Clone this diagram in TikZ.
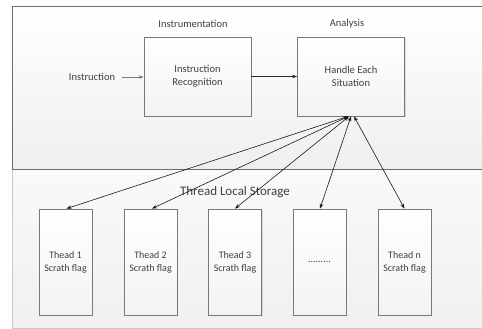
\documentclass[tikz,border=0pt]{standalone}
\usepackage{fontspec}
\setmainfont{Carlito}
\usetikzlibrary{arrows.meta,shadows}
\definecolor{edge}{RGB}{120,120,120}
\definecolor{paneledge}{RGB}{110,110,110}
\definecolor{txt}{RGB}{64,64,64}
\tikzset{
  panel/.style={top color=white, bottom color={rgb,255:red,238;green,239;blue,240}, draw=paneledge, line width=1pt},
  lowpanel/.style={top color={rgb,255:red,248;green,249;blue,250}, bottom color={rgb,255:red,240;green,240;blue,241}, draw={rgb,255:red,200;green,200;blue,200}, line width=0.8pt},
  block/.style={draw=edge, line width=0.8pt, top color=white, bottom color={rgb,255:red,242;green,243;blue,244},
    drop shadow={shadow xshift=1pt, shadow yshift=-1pt, opacity=0.25}, inner sep=0pt, align=center,
    font=\fontsize{10.5}{13}\selectfont, text=txt},
  bigblock/.style={block, minimum width=107pt, minimum height=79pt},
  flagbox/.style={block, minimum width=53pt, minimum height=106pt, font=\fontsize{10}{13}\selectfont},
  caption/.style={font=\fontsize{10.5}{12}\selectfont, text=txt},
  flow/.style={-{Stealth[length=5pt,width=3.6pt]}, line width=0.6pt, draw=black!85},
  link/.style={{Stealth[length=5pt,width=3.6pt]}-{Stealth[length=5pt,width=3.6pt]}, line width=0.6pt, draw=black!90},
}
\begin{document}
\begin{tikzpicture}[x=1pt,y=-1pt]
\useasboundingbox (0,0) rectangle (482,329);
\clip (0,0) rectangle (482,329);
% the two panels
\path[lowpanel] (12.5,169) rectangle (495,328);
\path[panel] (12.7,6.5) rectangle (495,169);

% instrumentation and analysis blocks
\node[bigblock] (ir) at (197.5,76.5) {Instruction\\Recognition};
\node[bigblock] (hes) at (351,76.5) {Handle Each\\Situation};
\node[caption] (instr) at (193,24) {Instrumentation};
\node[caption] (anal) at (347,24) {Analysis};
\node[caption] (input) at (92,77) {Instruction};
\draw[flow, draw=edge] (input.east) ++(3pt,0) coordinate (instart) -- (ir.west |- instart);
\draw[flow] (ir.east) -- (hes.west);

% thread local storage
\node[font=\fontsize{13}{15}\selectfont, text=txt] (tls) at (235,192) {Thread Local Storage};
\node[flagbox] (t1) at (65.5,262) {Thead 1\\Scrath flag};
\node[flagbox] (t2) at (150.5,262) {Thead 2\\Scrath flag};
\node[flagbox] (t3) at (235,262) {Thead 3\\Scrath flag};
\node[flagbox] (t4) at (319.5,262) {.........};
\node[flagbox] (t5) at (404.5,262) {Thead n\\Scrath flag};

% links between the analysis block and each thread's flag
\coordinate (h1) at ([xshift=-3pt]hes.south);
\coordinate (h2) at ([xshift=-2.5pt]hes.south);
\coordinate (h3) at ([xshift=-2pt]hes.south);
\coordinate (h4) at ([xshift=0pt]hes.south);
\coordinate (h5) at ([xshift=3pt]hes.south);
\draw[link] (h1) -- ([xshift=1pt]t1.north);
\draw[link] (h2) -- ([xshift=1.5pt]t2.north);
\draw[link] (h3) -- (t3.north);
\draw[link] (h4) -- ([xshift=0.5pt]t4.north);
\draw[link] (h5) -- (t5.north);
\end{tikzpicture}
\end{document}
